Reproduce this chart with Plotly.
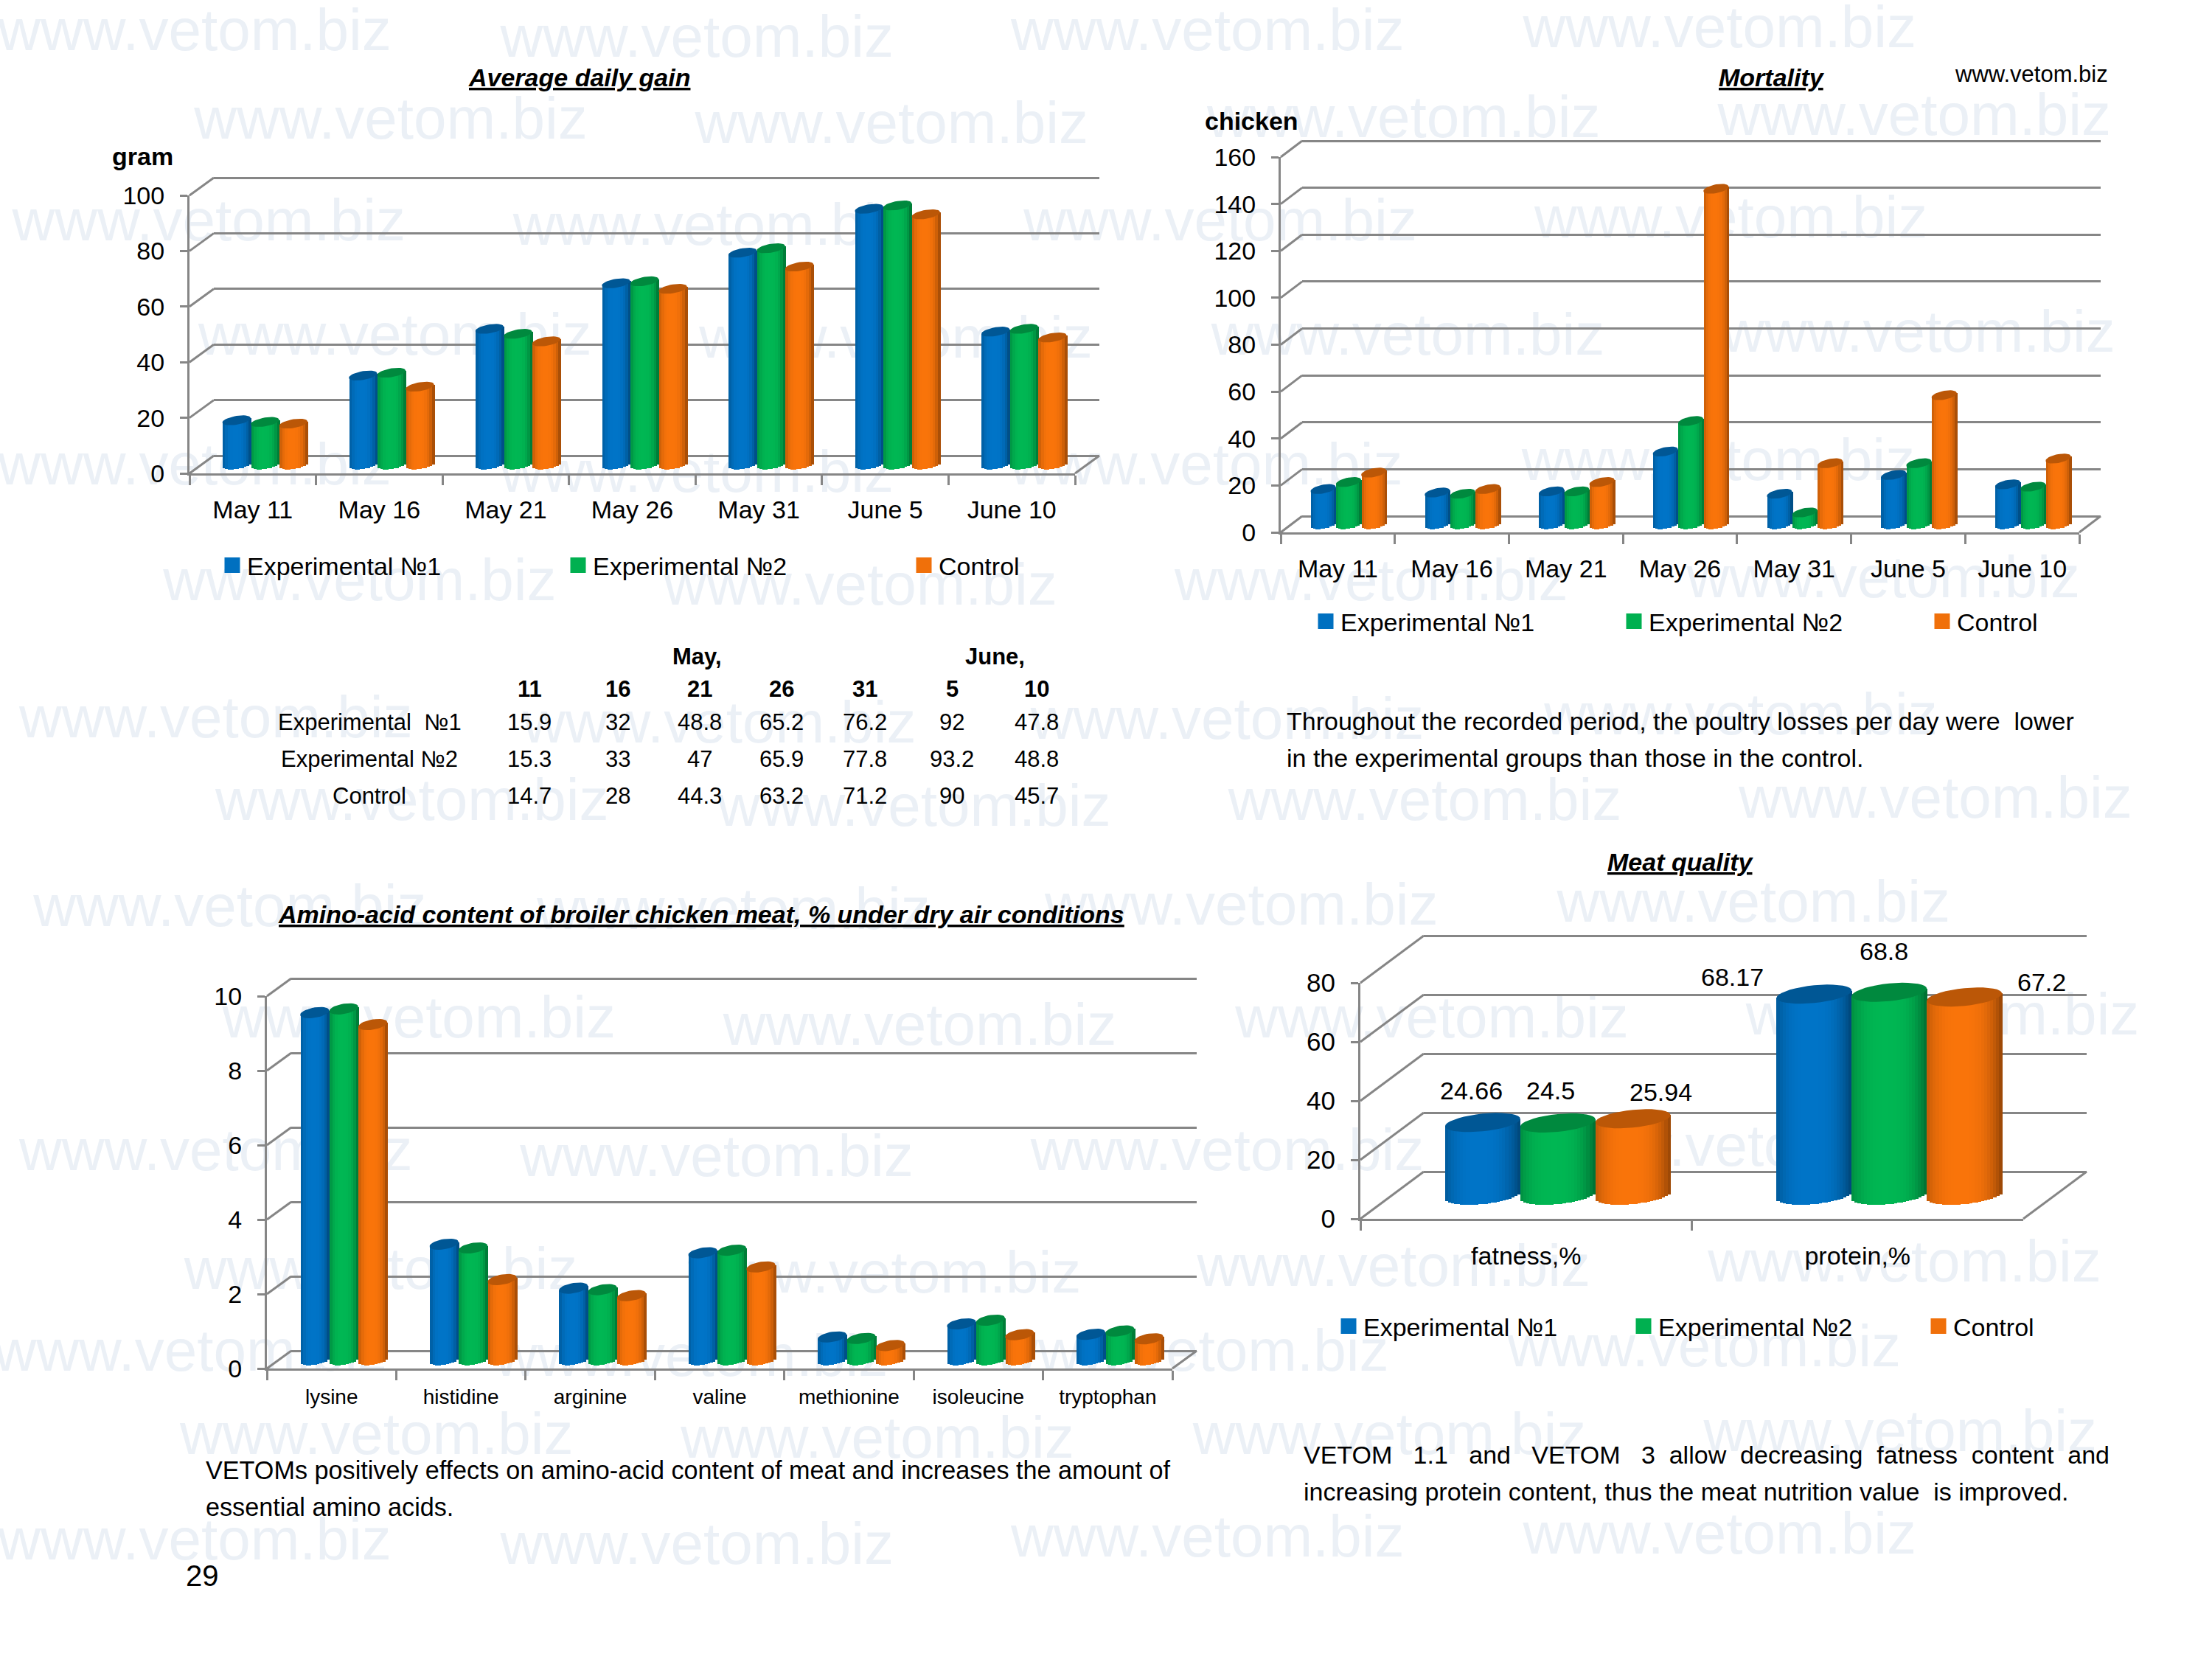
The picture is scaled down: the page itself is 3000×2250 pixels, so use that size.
import math
import plotly.graph_objects as go

W, H = 3000, 2250
FONT = "Liberation Sans, Arial, sans-serif"
SERIES = ["Experimental №1", "Experimental №2", "Control"]
BASE_COLORS = [(0, 112, 192), (0, 176, 80), (240, 112, 10)]
GRAY = "#868686"

dates = ["May 11", "May 16", "May 21", "May 26", "May 31", "June 5", "June 10"]
gain_exp1 = [15.9, 32, 48.8, 65.2, 76.2, 92, 47.8]
gain_exp2 = [15.3, 33, 47, 65.9, 77.8, 93.2, 48.8]
gain_ctrl = [14.7, 28, 44.3, 63.2, 71.2, 90, 45.7]

mort_exp1 = [15, 13.5, 14, 31, 13, 21, 17]
mort_exp2 = [18, 13, 14, 44, 5, 26, 16]
mort_ctrl = [22, 15, 18, 143, 26, 55, 28]

acids = ["lysine", "histidine", "arginine", "valine", "methionine", "isoleucine", "tryptophan"]
acid_exp1 = [9.32, 3.1, 1.92, 2.87, 0.61, 0.96, 0.68]
acid_exp2 = [9.42, 3.0, 1.88, 2.94, 0.57, 1.06, 0.77]
acid_ctrl = [9.0, 2.15, 1.72, 2.49, 0.38, 0.67, 0.56]

meat = ["fatness,%", "protein,%"]
meat_exp1 = [24.66, 68.17]
meat_exp2 = [24.5, 68.8]
meat_ctrl = [25.94, 67.2]

table_days = ["11", "16", "21", "26", "31", "5", "10"]
table_rows = ["Experimental  №1", "Experimental №2", "Control"]

watermark_xy = [
    (138, 25), (494, 30), (856, 25), (1219, 23), (1686, 25),
    (277, 88), (632, 91), (995, 87), (1357, 85),
    (148, 160), (503, 163), (865, 160), (1227, 158), (1690, 160),
    (280, 241), (635, 243), (998, 241), (1360, 239),
    (138, 333), (494, 338), (855, 333), (1218, 330), (1686, 333),
    (255, 415), (610, 418), (972, 415), (1335, 413),
    (153, 512), (510, 516), (870, 513), (1234, 510), (1686, 512),
    (292, 571), (648, 575), (1010, 571), (1372, 569),
    (163, 646), (520, 648), (880, 645), (1243, 643), (1690, 646),
    (297, 725), (652, 730), (1015, 725), (1377, 723),
    (153, 819), (508, 823), (870, 819), (1234, 816), (1690, 819),
    (270, 903), (627, 906), (988, 901), (1350, 898),
    (135, 961), (490, 965), (845, 961), (1208, 958), (1675, 961),
    (267, 1020), (622, 1023), (985, 1020), (1347, 1018),
    (138, 1095), (494, 1098), (856, 1093), (1219, 1091), (1686, 1095),
    (270, 1181), (627, 1185), (988, 1181), (1350, 1181),
]

charts = [
    dict(cats=dates, vals=[gain_exp1, gain_exp2, gain_ctrl], ymax=100, dtick=20,
         L=257, R=1458, y0=642, yt=265, dx=33, dy=-24, group=0.674, b=6, k=3, strips=11,
         tickfont=34, standoff_x=17, legend_x=295, legend_y=767, entry=424, name="legend"),
    dict(cats=dates, vals=[mort_exp1, mort_exp2, mort_ctrl], ymax=160, dtick=20,
         L=1737, R=2820, y0=722, yt=213, dx=29, dy=-22, group=0.665, b=6, k=3, strips=11,
         tickfont=34, standoff_x=17, legend_x=1778, legend_y=843, entry=373, name="legend2"),
    dict(cats=acids, vals=[acid_exp1, acid_exp2, acid_ctrl], ymax=10, dtick=2,
         L=362, R=1590, y0=1856, yt=1351, dx=33, dy=-24, group=0.674, b=7, k=3, strips=11,
         tickfont=28, ytickfont=34, standoff_x=11, name=None),
    dict(cats=meat, vals=[meat_exp1, meat_exp2, meat_ctrl], ymax=80, dtick=20,
         L=1845, R=2744, y0=1653, yt=1333, dx=86, dy=-64, group=0.68, b=12, k=5, strips=25,
         tickfont=34, ytickfont=35, standoff_x=18, legend_x=1809, legend_y=1799, entry=355, name="legend3"),
]

fig = go.Figure()
layout = dict(
    width=W, height=H, margin=dict(l=0, r=0, t=0, b=0, autoexpand=False),
    paper_bgcolor="white", plot_bgcolor="rgba(0,0,0,0)", barmode="overlay",
    showlegend=True, font=dict(family=FONT, color="black", size=34), bargap=0,
    hovermode=False,
)


def px(x):
    return x / W


def py(y):
    return 1 - y / H


layout["xaxis"] = dict(domain=[0, 1], range=[0, W], visible=False, anchor="y")
layout["yaxis"] = dict(domain=[0, 1], range=[H, 0], visible=False, anchor="x")

S = 1.9133
fig.add_trace(go.Scatter(
    x=[p[0] * S for p in watermark_xy], y=[p[1] * S for p in watermark_xy],
    mode="text", text=["www.vetom.biz"] * len(watermark_xy),
    textfont=dict(family=FONT, size=80, color="rgb(235,240,246)"),
    showlegend=False, xaxis="x", yaxis="y", textposition="middle center", cliponaxis=False,
))

# perspective depth lines of the 3D box
dx_lines, dy_lines = [], []
for c in charts:
    n = int(c["ymax"] / c["dtick"])
    for i in range(n + 1):
        yy = c["y0"] + (c["yt"] - c["y0"]) * i / n
        dx_lines += [c["L"], c["L"] + c["dx"], None]
        dy_lines += [yy, yy + c["dy"], None]
    dx_lines += [c["R"], c["R"] + c["dx"], None]
    dy_lines += [c["y0"], c["y0"] + c["dy"], None]
fig.add_trace(go.Scatter(x=dx_lines, y=dy_lines, mode="lines", line=dict(color=GRAY, width=3),
                         showlegend=False, xaxis="x", yaxis="y"))


def shade(rgb, f):
    return "rgb(%d,%d,%d)" % tuple(max(0, min(255, int(v * f))) for v in rgb)


def profile(u):
    return 1.04 - 0.32 * abs(u + 0.1) ** 3


ax = 2
for c in charts:
    n_b, n_f, n_p = ax, ax + 1, ax + 2
    ax += 3
    L, R, y0, yt, dx, dy = c["L"], c["R"], c["y0"], c["yt"], c["dx"], c["dy"]
    ncat = len(c["cats"])
    ppu = (y0 - yt) / c["ymax"]

    # back wall with its gridlines; a little headroom keeps the top gridline drawn
    head = 3
    layout[f"xaxis{n_b}"] = dict(domain=[px(L + dx), px(R + dx)], range=[0, 1], visible=False, anchor=f"y{n_b}")
    layout[f"yaxis{n_b}"] = dict(domain=[py(y0 + dy), py(yt + dy - head)], range=[0, c["ymax"] + head / ppu],
                                 tick0=0, dtick=c["dtick"],
                                 anchor=f"x{n_b}", showgrid=True, gridcolor=GRAY, gridwidth=3,
                                 showticklabels=False, zeroline=True, zerolinecolor=GRAY, zerolinewidth=3,
                                 showline=False, ticks="")
    fig.add_trace(go.Scatter(x=[None], y=[None], mode="markers", showlegend=False,
                             xaxis=f"x{n_b}", yaxis=f"y{n_b}"))

    # front axes with ticks and labels
    layout[f"xaxis{n_f}"] = dict(domain=[px(L), px(R)], type="category", categoryorder="array",
                                 categoryarray=c["cats"], range=[-0.5, ncat - 0.5], anchor=f"y{n_f}",
                                 showline=True, linecolor=GRAY, linewidth=3, ticks="outside", tickson="boundaries",
                                 ticklen=13, tickwidth=3, tickcolor=GRAY, showgrid=False,
                                 tickfont=dict(size=c["tickfont"], family=FONT, color="black"),
                                 ticklabelstandoff=c["standoff_x"])
    layout[f"yaxis{n_f}"] = dict(domain=[py(y0), py(yt)], range=[0, c["ymax"]], dtick=c["dtick"], anchor=f"x{n_f}",
                                 showline=True, linecolor=GRAY, linewidth=3, ticks="outside", ticklen=10,
                                 tickwidth=3, tickcolor=GRAY, showgrid=False, zeroline=False,
                                 tickfont=dict(size=c.get("ytickfont", c["tickfont"]), family=FONT, color="black"),
                                 ticklabelstandoff=14)
    fig.add_trace(go.Scatter(x=c["cats"], y=[None] * ncat, mode="markers", showlegend=False,
                             xaxis=f"x{n_f}", yaxis=f"y{n_f}"))

    # cylinders, standing mid-way on the floor
    pad = 30
    layout[f"xaxis{n_p}"] = dict(domain=[px(L + dx / 2), px(R + dx / 2)], range=[-0.5, ncat - 0.5],
                                 visible=False, anchor=f"y{n_p}")
    layout[f"yaxis{n_p}"] = dict(domain=[py(y0 + dy / 2) - pad / H, py(yt + dy / 2) + pad / H],
                                 range=[-pad / ppu, c["ymax"] + pad / ppu], visible=False, anchor=f"x{n_p}")
    bw = c["group"] / 3
    ns = c["strips"]
    xs = list(range(ncat))
    b, k = c["b"], c["k"]
    for si, (vals, rgb) in enumerate(zip(c["vals"], BASE_COLORS)):
        left = (si - 1.5) * bw
        for j in range(ns):
            u = -1 + (2 * j + 1) / ns
            base_px = -b * math.sqrt(max(0.0, 1 - u * u)) + k * u
            bases = [base_px / ppu] * ncat
            tops = [v + k * u / ppu - base_px / ppu for v in vals]
            fig.add_trace(go.Bar(
                x=xs, y=tops, base=bases, width=bw / ns * 1.15, offset=left + j * bw / ns,
                marker=dict(color=shade(rgb, profile(u)), line=dict(width=0)),
                showlegend=False, xaxis=f"x{n_p}", yaxis=f"y{n_p}",
            ))
        # top caps
        cap_x, cap_y = [], []
        ax_px = (R - L) / ncat
        a = bw * ax_px / 2
        for xi, v in zip(xs, vals):
            cx = xi + left + bw / 2
            for t in range(0, 37):
                th = t * math.pi / 18
                cap_x.append(cx + a * math.cos(th) / ax_px)
                cap_y.append(v + (b * math.sin(th) + k * math.cos(th)) / ppu)
            cap_x.append(None)
            cap_y.append(None)
        fig.add_trace(go.Scatter(x=cap_x, y=cap_y, mode="lines", fill="toself",
                                 fillcolor=shade(rgb, 0.78), line=dict(width=0, color=shade(rgb, 0.78)),
                                 showlegend=False, xaxis=f"x{n_p}", yaxis=f"y{n_p}"))

    if c["name"]:
        layout[c["name"]] = dict(orientation="h", x=px(c["legend_x"]), y=py(c["legend_y"]),
                                 xanchor="left", yanchor="middle", bgcolor="rgba(0,0,0,0)",
                                 entrywidth=c["entry"], entrywidthmode="pixels", traceorder="normal",
                                 font=dict(size=34, family=FONT, color="black"),
                                 itemclick=False, itemdoubleclick=False)
        for name, rgb in zip(SERIES, BASE_COLORS):
            col = shade(rgb, 1)
            fig.add_trace(go.Scatter(x=[None], y=[None], mode="markers", name=name, legend=c["name"],
                                     marker=dict(symbol="square", size=16, color=col, line=dict(width=5, color=col)),
                                     xaxis=f"x{n_p}", yaxis=f"y{n_p}"))

ann = []


def text(x, y, s, size=34, anchor="center"):
    ann.append(dict(x=px(x), y=py(y), xref="paper", yref="paper", text=s, showarrow=False,
                    xanchor=anchor, yanchor="middle", font=dict(size=size, family=FONT, color="black")))


for x, y, s in [(785, 105, "Average daily gain"), (2403, 105, "Mortality"), (2279, 1169, "Meat quality"),
                (951, 1240, "Amino-acid content of broiler chicken meat, % under dry air conditions")]:
    text(x, y, f"<b><i><u>{s}</u></i></b>", 34)
text(193, 212, "<b>gram</b>", 34)
text(1697, 164, "<b>chicken</b>", 34)
text(2755, 101, "www.vetom.biz", 31)

col_x = [718, 838, 949, 1060, 1173, 1291, 1406]
text(945, 890, "<b>May,</b>", 31)
text(1349, 890, "<b>June,</b>", 31)
for x, d in zip(col_x, table_days):
    text(x, 934, f"<b>{d}</b>", 31)
for y, label, vals in zip([980, 1029, 1079], table_rows, [gain_exp1, gain_exp2, gain_ctrl]):
    text(501, y, label, 31)
    for x, v in zip(col_x, vals):
        text(x, y, str(v), 31)

text(1743, 978, "Throughout the recorded period, the poultry losses per day were  lower", 34, "left")
text(1743, 1028, "in the experimental groups than those in the control.", 34, "left")
text(277, 1994, "VETOMs positively effects on amino-acid content of meat and increases the amount of", 34.2, "left")
text(277, 2044, "essential amino acids.", 34.2, "left")
text(1766, 1973, "VETOM   1.1   and   VETOM   3  allow  decreasing  fatness  content  and", 34, "left")
text(1766, 2023, "increasing protein content, thus the meat nutrition value  is improved.", 34, "left")
text(274, 2137, "29", 40)

meat_labels = [(1995, 1479), (2349, 1325), (2103, 1479), (2555, 1290), (2252, 1481), (2769, 1332)]
meat_vals = [meat_exp1[0], meat_exp1[1], meat_exp2[0], meat_exp2[1], meat_ctrl[0], meat_ctrl[1]]
for (x, y), v in zip(meat_labels, meat_vals):
    text(x, y, str(v), 34)

layout["annotations"] = ann
fig.update_layout(**layout)
fig.write_html("out.html", config={"displayModeBar": False},
               post_script="document.body.style.margin='0';")
